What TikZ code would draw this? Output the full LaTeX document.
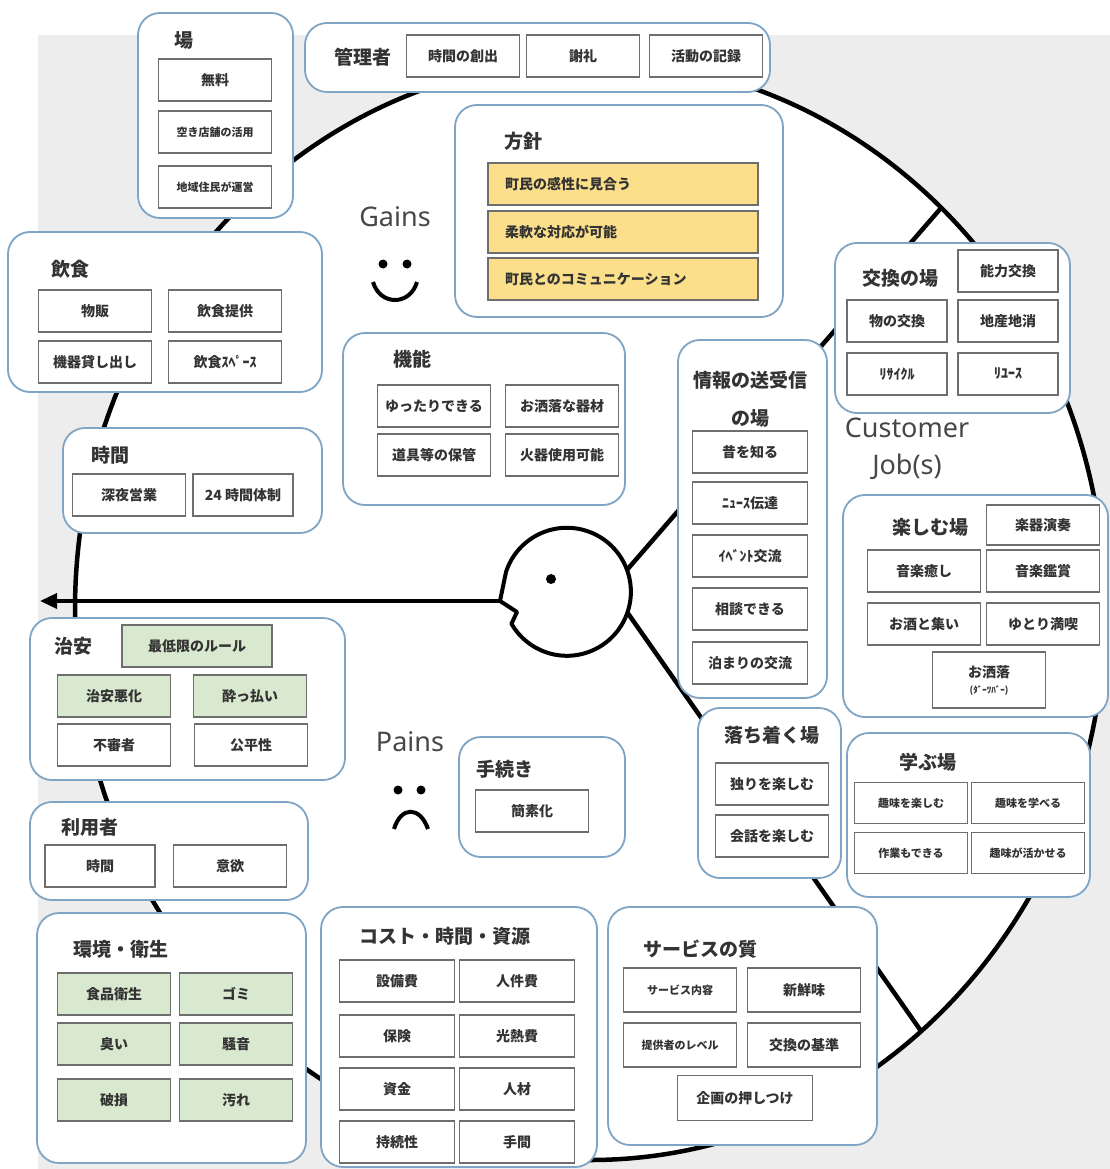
\documentclass[tikz,border=0pt]{standalone}
\usepackage{fontspec}
\newfontfamily\jp{Noto Sans CJK JP}
\newfontfamily\lat{Noto Sans}
\usetikzlibrary{arrows.meta,fit}

\definecolor{frame}{HTML}{7FA4C4}
\definecolor{cell}{HTML}{6E6E6E}
\definecolor{pale}{HTML}{D9E9D0}
\definecolor{gold}{HTML}{FBDF8B}
\definecolor{ink}{HTML}{333333}

\begin{document}
\begin{tikzpicture}[x=1pt,y=-1pt,
  group/.style={draw=frame,line width=1.8pt,rounded corners=22pt,fill=white,inner sep=0pt},
  boxtitle/.style={font=\jp\bfseries\fontsize{19}{38}\selectfont,text=ink},
  item/.style={draw=cell,line width=1.6pt,fill=white,minimum width=113pt,minimum height=42pt,
    inner sep=1pt,font=\jp\bfseries\fontsize{14}{16}\selectfont,text=ink},
  fine/.style={font=\jp\bfseries\fontsize{11}{13}\selectfont},
  calm/.style={fill=pale},
  aim/.style={item,fill=gold,minimum width=270pt,text width=236pt,align=left},
  sign/.style={font=\lat\fontsize{27}{37}\selectfont,text=black!72},
  rim/.style={line width=4.5pt},
]
\useasboundingbox (0,0) rectangle (1110,1169);
\fill[black!7] (38,35) rectangle (1110,1169);

% profile circle, the two sector lines and the arrow out of the face
\draw[rim,fill=white] (590,610) ellipse [x radius=515,y radius=550];
\coordinate (nose) at (500,601);
\coordinate (tip) at (40,601);
\coordinate (neckup) at (626,571);
\coordinate (neckdn) at (627,612);
\coordinate (rimup) at (941,208);
\coordinate (rimdn) at (921,1031);
\draw[rim] (neckup) -- (rimup);
\draw[rim] (neckdn) -- (rimdn);
\draw[line width=3.5pt,-{Triangle[length=17pt,width=15pt]}] (nose) -- (tip);

% face
\draw[line width=4pt,line join=round,fill=white] (nose) -- (506,572)
  arc[start angle=198,end angle=510,radius=64] -- (517,612) -- cycle;
\fill (551,579) circle (5);

% sector names
\node[sign] (gains) at (395,217) {Gains};
\fill (383,264) circle (4.5);
\fill (407,264) circle (4.5);
\draw[line width=4pt] (373,282) .. controls (380,306) and (410,306) .. (417,282);
\node[sign] (pains) at (410,742) {Pains};
\fill (398,790) circle (4.5);
\fill (421,790) circle (4.5);
\draw[line width=4pt] (394,829) .. controls (401,806) and (420,806) .. (428,829);
\node[sign,align=center] (jobs) at (907,449) {Customer\\Job(s)};

% 場
\node[group,fit={(138,13) (293,218)}] (place) {};
\node[boxtitle] (placet) at (184,40) {場};
\node[item] (place1) at (215,80) {無料};
\node[item,fine] (place2) at (215,132) {空き店舗の活用};
\node[item,fine] (place3) at (215,187) {地域住民が運営};

% 管理者
\node[group,fit={(305,23) (770,92)}] (admin) {};
\node[boxtitle] (admint) at (363,57) {管理者};
\foreach \x/\t/\n in {463/時間の創出/admin1, 583/謝礼/admin2, 706/活動の記録/admin3}
  \node[item] (\n) at (\x,56) {\t};

% 方針
\node[group,fit={(455,105) (783,317)}] (policy) {};
\node[boxtitle] (policyt) at (523,141) {方針};
\node[aim] (policy1) at (623,184) {町民の感性に見合う};
\node[aim] (policy2) at (623,232) {柔軟な対応が可能};
\node[aim] (policy3) at (623,279) {町民とのコミュニケーション};

% 飲食
\node[group,fit={(8,232) (322,392)}] (food) {};
\node[boxtitle] (foodt) at (70,269) {飲食};
\node[item] (food1) at (95,311) {物販};
\node[item] (food2) at (225,311) {飲食提供};
\node[item] (food3) at (95,362) {機器貸し出し};
\node[item] (food4) at (225,362) {飲食ｽﾍﾟｰｽ};

% 時間
\node[group,fit={(63,428) (322,533)}] (hours) {};
\node[boxtitle] (hourst) at (110,455) {時間};
\node[item] (hours1) at (129,495) {深夜営業};
\node[item,minimum width=100pt] (hours2) at (243,495) {24 時間体制};

% 機能
\node[group,fit={(343,333) (625,505)}] (func) {};
\node[boxtitle] (funct) at (412,359) {機能};
\node[item] (func1) at (434,406) {ゆったりできる};
\node[item] (func2) at (562,406) {お洒落な器材};
\node[item] (func3) at (434,455) {道具等の保管};
\node[item] (func4) at (562,455) {火器使用可能};

% 情報の送受信の場
\node[group,fit={(678,340) (827,698)}] (info) {};
\node[boxtitle,align=center] (infot) at (750,399) {情報の送受信\\の場};
\foreach \y/\t/\n in {452/昔を知る/info1, 503/ﾆｭｰｽ伝達/info2, 556/ｲﾍﾞﾝﾄ交流/info3,
    609/相談できる/info4, 663/泊まりの交流/info5}
  \node[item,minimum width=115pt] (\n) at (750,\y) {\t};

% 交換の場
\node[group,fit={(835,243) (1070,413)}] (swap) {};
\node[boxtitle] (swapt) at (900,278) {交換の場};
\node[item,minimum width=100pt] (swap1) at (1008,271) {能力交換};
\node[item,minimum width=100pt] (swap2) at (897,321) {物の交換};
\node[item,minimum width=100pt] (swap3) at (1008,321) {地産地消};
\node[item,minimum width=100pt] (swap4) at (897,374) {ﾘｻｲｸﾙ};
\node[item,minimum width=100pt] (swap5) at (1008,374) {ﾘﾕｰｽ};

% 楽しむ場
\node[group,fit={(843,495) (1108,717)}] (fun) {};
\node[boxtitle] (funt) at (930,527) {楽しむ場};
\node[item,minimum height=40pt] (fun1) at (1043,525) {楽器演奏};
\node[item] (fun2) at (924,571) {音楽癒し};
\node[item] (fun3) at (1043,571) {音楽鑑賞};
\node[item] (fun4) at (924,624) {お酒と集い};
\node[item] (fun5) at (1043,624) {ゆとり満喫};
\node[item,minimum height=56pt,align=center] (fun6) at (989,680)
  {お洒落\\{\fontsize{9}{10}\selectfont (ﾀﾞｰﾂﾊﾞｰ)}};

% 治安
\node[group,fit={(30,618) (345,780)}] (safety) {};
\node[boxtitle] (safetyt) at (73,646) {治安};
\node[item,calm,minimum width=150pt] (safety1) at (197,646) {最低限のルール};
\node[item,calm] (safety2) at (114,696) {治安悪化};
\node[item,calm] (safety3) at (250,696) {酔っ払い};
\node[item] (safety4) at (114,745) {不審者};
\node[item] (safety5) at (251,745) {公平性};

% 利用者
\node[group,fit={(30,802) (308,900)}] (users) {};
\node[boxtitle] (userst) at (90,827) {利用者};
\node[item,minimum width=110pt] (users1) at (100,866) {時間};
\node[item] (users2) at (230,866) {意欲};

% 手続き
\node[group,fit={(459,737) (625,857)}] (proc) {};
\node[boxtitle] (proct) at (505,769) {手続き};
\node[item] (proc1) at (532,811) {簡素化};

% 落ち着く場
\node[group,fit={(698,708) (841,878)}] (rest) {};
\node[boxtitle] (restt) at (772,735) {落ち着く場};
\node[item] (rest1) at (772,784) {独りを楽しむ};
\node[item] (rest2) at (772,836) {会話を楽しむ};

% 学ぶ場
\node[group,fit={(847,733) (1090,897)}] (learn) {};
\node[boxtitle] (learnt) at (928,762) {学ぶ場};
\node[item,fine,minimum height=41pt] (learn1) at (911,803) {趣味を楽しむ};
\node[item,fine,minimum height=41pt] (learn2) at (1028,803) {趣味を学べる};
\node[item,fine,minimum height=41pt] (learn3) at (911,853) {作業もできる};
\node[item,fine,minimum height=41pt] (learn4) at (1028,853) {趣味が活かせる};

% 環境・衛生
\node[group,fit={(37,913) (306,1163)}] (env) {};
\node[boxtitle] (envt) at (121,949) {環境・衛生};
\foreach \x/\y/\t/\n in {114/994/食品衛生/env1, 236/994/ゴミ/env2, 114/1044/臭い/env3,
    236/1044/騒音/env4, 114/1100/破損/env5, 236/1100/汚れ/env6}
  \node[item,calm] (\n) at (\x,\y) {\t};

% コスト・時間・資源
\node[group,fit={(321,907) (597,1167)}] (cost) {};
\node[boxtitle] (costt) at (445,936) {コスト・時間・資源};
\foreach \x/\y/\t/\n in {397/981/設備費/cost1, 517/981/人件費/cost2, 397/1036/保険/cost3,
    517/1036/光熱費/cost4, 397/1089/資金/cost5, 517/1089/人材/cost6,
    397/1142/持続性/cost7, 517/1142/手間/cost8}
  \node[item,minimum width=115pt] (\n) at (\x,\y) {\t};

% サービスの質
\node[group,fit={(608,907) (877,1145)}] (service) {};
\node[boxtitle] (servicet) at (700,949) {サービスの質};
\node[item,fine,minimum height=44pt] (service1) at (680,990) {サービス内容};
\node[item,minimum height=44pt] (service2) at (804,990) {新鮮味};
\node[item,fine,minimum height=44pt] (service3) at (680,1045) {提供者のレベル};
\node[item,minimum height=44pt] (service4) at (804,1045) {交換の基準};
\node[item,minimum width=135pt,minimum height=45pt] (service5) at (745,1098) {企画の押しつけ};
\end{tikzpicture}
\end{document}
